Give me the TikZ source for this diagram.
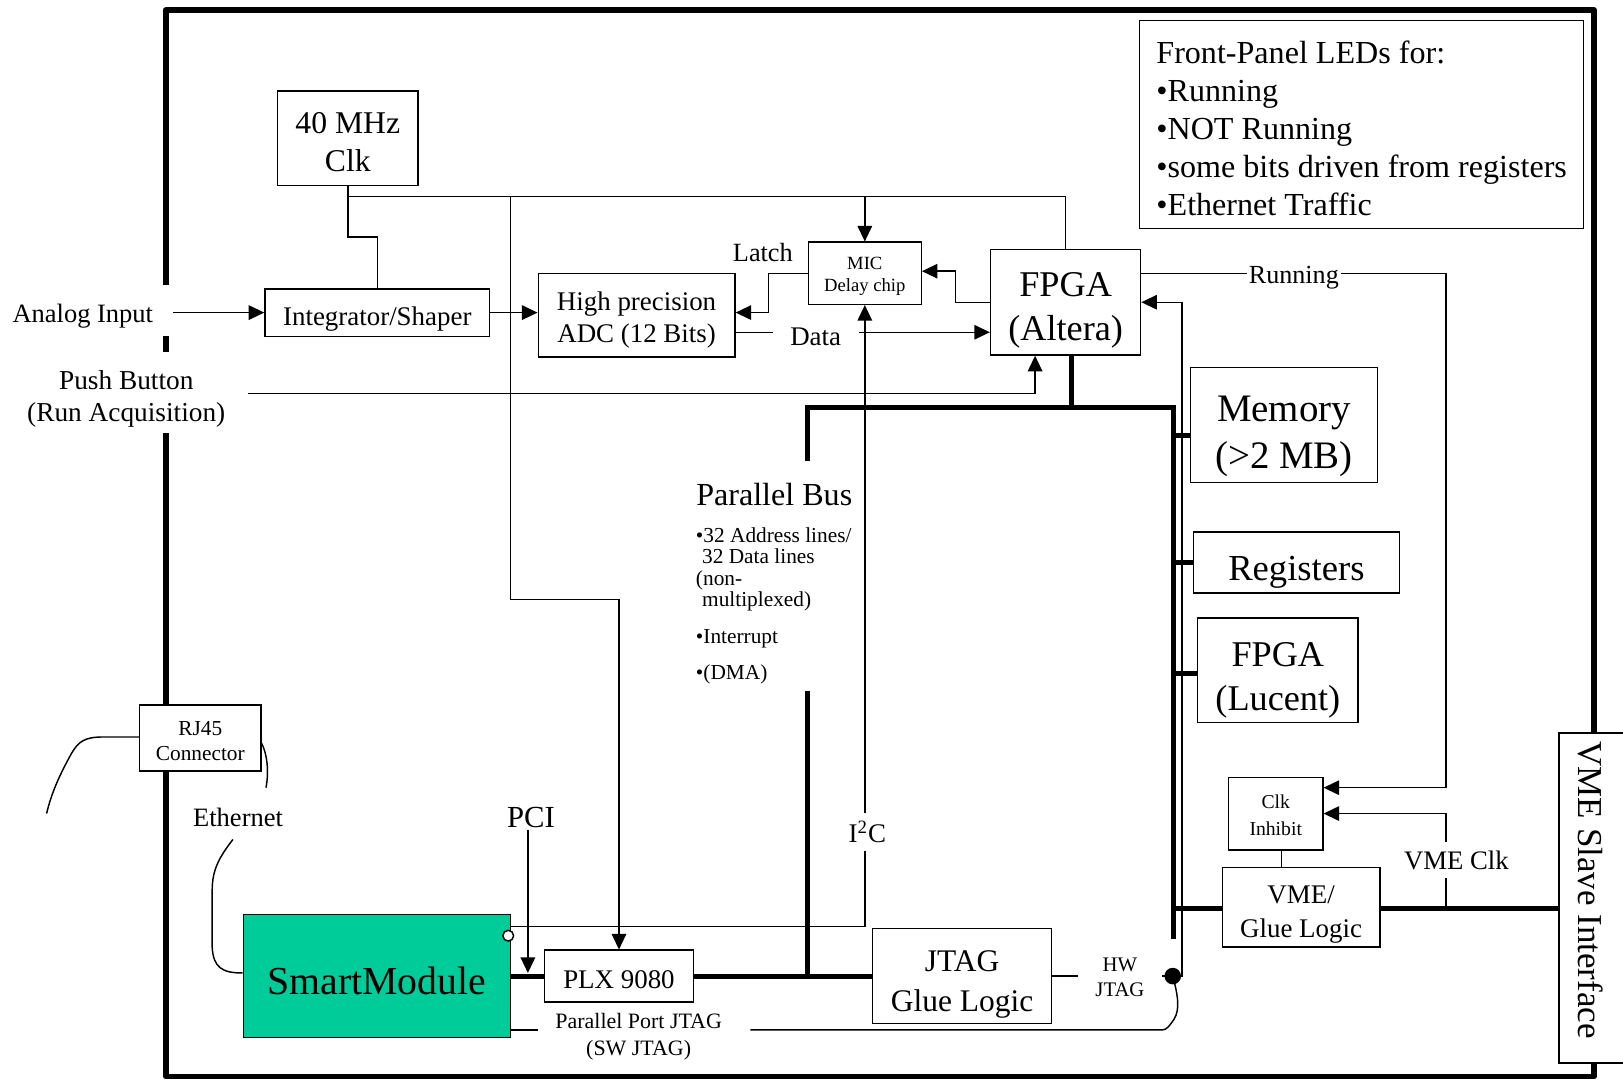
\documentclass[tikz,border=0pt]{standalone}
\usepackage{fontspec}
\setmainfont{Liberation Serif}
\usetikzlibrary{arrows.meta,calc}
\definecolor{smartc}{RGB}{0,204,153}
\newcommand{\myfs}[2]{\fontsize{#1pt}{#2pt}\selectfont}
\tikzset{
  box/.style={draw, line width=0.7pt, fill=white, inner sep=0pt, align=center},
  sz/.style 2 args={minimum width=#1*0.5pt, minimum height=#2*0.5pt},
  lab/.style={inner sep=0pt, align=center},
  ln/.style={line width=0.7pt},
  arr/.style={line width=0.7pt, -{Triangle[length=7.5pt,width=7pt]}},
  bus/.style={line width=2.4pt},
  frame/.style={line width=2.8pt, line join=round},
  lbl/.style={inner sep=1pt, align=center},
  gap/.style={fill=white, inner sep=1pt, align=center},
}
\begin{document}
\begin{tikzpicture}[x=0.5pt,y=-0.5pt]
\useasboundingbox (0,0) rectangle (1568,1043);

% outer frame
\draw[frame] (160,275) -- (160,10) -- (1540,10) -- (1540,1040) -- (160,1040) -- (160,418);
\draw[frame] (160,325) -- (160,340);

% boxes
\node[box,sz={136}{91},label={[lab,font=\myfs{15.3}{18.5},yshift=-1.75pt]center:{40 MHz\\Clk}}] (clk) at (336,133.5) {};
\node[box,sz={217}{46},label={[lab,font=\myfs{13}{15.5},yshift=-3pt]center:{Integrator/Shaper}}] (integ) at (364.5,302) {};
\node[box,sz={190}{81},label={[lab,font=\myfs{13}{15.5},yshift=-2.5pt]center:{High precision\\ADC (12 Bits)}}] (adc) at (615,304.5) {};
\node[box,sz={109}{60},label={[lab,font=\myfs{9}{10.5},yshift=-1.5pt]center:{MIC\\Delay chip}}] (mic) at (835.5,264) {};
\node[box,sz={145}{102},label={[lab,font=\myfs{17.5}{21.5},yshift=-4pt]center:{FPGA\\(Altera)}}] (fpgaA) at (1029.5,292) {};
\node[box,sz={429}{201},label={[lab,align=left,font=\myfs{15.5}{18.4},yshift=-1.75pt]center:{Front-Panel LEDs for:\\•Running\\•NOT Running\\•some bits driven from registers\\•Ethernet Traffic}}] (leds) at (1315.5,120.5) {};
\node[box,sz={181}{111},label={[lab,font=\myfs{18.8}{22.5},yshift=-5.5pt]center:{Memory\\(>2 MB)}}] (mem) at (1240.5,410.5) {};
\node[box,sz={199}{59},label={[lab,font=\myfs{17.7}{21},yshift=-4.5pt]center:{Registers}}] (reg) at (1252.5,543.5) {};
\node[box,sz={155}{101},label={[lab,font=\myfs{17.5}{21.5},yshift=-5pt]center:{FPGA\\(Lucent)}}] (fpgaL) at (1234.5,647.5) {};
\node[box,sz={91}{70},label={[lab,font=\myfs{9.5}{13},yshift=-1pt]center:{Clk\\Inhibit}}] (clkinh) at (1232.5,786) {};
\node[box,sz={152}{77},label={[lab,font=\myfs{13}{16},yshift=-3.5pt]center:{VME/\\Glue Logic}}] (vmeglue) at (1257,876.5) {};
\node[box,sz={173}{92},label={[lab,font=\myfs{15.2}{19},yshift=-4pt]center:{JTAG\\Glue Logic}}] (jtag) at (929.5,943) {};
\node[box,sz={144}{50},label={[lab,font=\myfs{13}{15.5},yshift=-1.5pt]center:{PLX 9080}}] (plx) at (598,943) {};
\node[box,sz={258}{119},fill=smartc,label={[lab,font=\myfs{19.2}{23},yshift=-2.5pt]center:{SmartModule}}] (smart) at (364,943) {};
\node[box,sz={117}{64},label={[lab,font=\myfs{10.3}{12},yshift=-1.5pt]center:{RJ45\\Connector}}] (rj45) at (193.5,713) {};
\node[box,sz={80}{319}] (vmes) at (1546,867.5) {};
\node[lbl,rotate=-90,font=\myfs{16.9}{20}] (vmest) at (1537,860) {VME Slave Interface};

% plain labels
\node[lbl,font=\myfs{12.8}{15}] (ain) at (80,305) {Analog Input};
\node[lbl,font=\myfs{13.2}{15.5}] (pb) at (122,385.5) {Push Button\\(Run Acquisition)};
\node[lbl,font=\myfs{12.7}{15}] (latch) at (737,244) {Latch};
\node[lbl,font=\myfs{15.5}{18}] (pbus) at (748,478) {Parallel Bus};
\node[inner sep=0pt,align=left,anchor=north west,font=\myfs{10.3}{10.4}] (pbl) at (672,509)
  {•32 Address lines/\\\hspace*{3pt}32 Data lines\\(non-\\\hspace*{3pt}multiplexed)\\[7.2pt]•Interrupt\\[7.2pt]•(DMA)};
\node[lbl,font=\myfs{14.8}{17}] (pci) at (513,790) {PCI};
\node[lbl,font=\myfs{12.8}{15}] (eth) at (230,790) {Ethernet};
\node[lbl,font=\myfs{10.6}{13}] (ppj) at (617,1002) {Parallel Port JTAG\\(SW JTAG)};

% clock distribution
\coordinate (j1) at (336,190);
\coordinate (j2) at (493,190);
\coordinate (j3) at (493,579);
\coordinate (j4) at (336,229);
\draw[ln] (clk.south) -- (j1) -| (fpgaA.north);
\draw[ln] (j1) -- (j4) -| (integ.north);
\draw[arr] (mic.north |- j1) -- (mic.north);
\draw[arr] (j2) -- (j3) -| (plx.north);

% analog chain
\coordinate (ainE) at (167,302);
\draw[arr] (ainE) -- (integ.west);
\draw[arr] (integ.east) -- (adc.west |- integ.east);
\draw[arr] (mic.west) -- ++(-38,0) |- ($(adc.east)+(0,-2.5)$);
\draw[arr] ($(adc.east)+(0,16.5)$) -- ($(fpgaA.west)+(0,29)$);
\draw[arr] (fpgaA.west) -- ++(-33,0) |- ($(mic.east)+(0,-2)$);

% push button
\coordinate (pbE) at (240,380);
\draw[arr] (pbE) -| ($(fpgaA.south)+(-29.5,0)$);

% running / clk inhibit
\coordinate (runC) at (1397,264);
\draw[arr] ($(fpgaA.east)+(0,-28)$) -- (runC) |- ($(clkinh.east)+(0,-25)$);
\coordinate (vclkB) at (1397,878);
\draw[arr] (vclkB) |- (clkinh.east);
\coordinate (ci) at ($(clkinh.south)+(5.5,0)$);
\draw[ln] (ci) -- (ci |- vmeglue.north);

% I2C
\coordinate (i2cS) at (493,895);
\draw[arr] (i2cS) -| (mic.south);
\draw[ln,fill=white] (491,904) circle (2.6pt);

% PCI
\coordinate (pciE) at (510,940);
\draw[arr] (pci.south -| pciE) -- (pciE);

% parallel bus
\coordinate (bT) at (1035,394);
\coordinate (bL) at (780,394);
\coordinate (bR) at (1134,394);
\draw[bus] (fpgaA.south -| bT) -- (bT);
\draw[bus] (780,445) -- (bL) -- (bR) -- (1134,907);
\draw[bus] (780,668) -- (780,943);
\draw[bus] (smart.east) -- (plx.west);
\draw[bus] (plx.east) -- (jtag.west);
\draw[bus] ($(mem.west)+(-16,10.5)$) -- ($(mem.west)+(0,10.5)$);
\draw[bus] (bR |- reg.west) -- (reg.west);
\draw[bus] ($(fpgaL.west)+(-23,3.5)$) -- ($(fpgaL.west)+(0,3.5)$);
\draw[bus] ($(vmeglue.west)+(-47,1.5)$) -- ($(vmeglue.west)+(0,1.5)$);
\draw[bus] ($(vmeglue.east)+(0,1.5)$) -- ($(vmeglue.east -| vmes.west)+(0,1.5)$);

% HW JTAG
\coordinate (hwdot) at (1133,943);
\coordinate (hwv) at (1142,292);
\draw[ln] (jtag.east) -- (hwdot);
\draw[arr] (hwdot) -| (hwv) -- (fpgaA.east);
\fill (hwdot) circle (4pt);

% SW JTAG
\coordinate (swA) at (1123,995);
\coordinate (swB) at (725,995);
\coordinate (swC) at (520,995);
\draw[ln] (hwdot) .. controls (1137,958) and (1141,975) .. (1134,985)
  .. controls (1130,991) and (1127,995) .. (swA) -- (swB);
\draw[ln] (smart.east |- swA) -- (swC);

% Ethernet
\draw[ln] ($(smart.west)+(0,-3)$) .. controls (215,940) and (206,935) .. (205,915)
  -- (205,860) .. controls (205,840) and (212,828) .. (225,811);
\draw[ln] (rj45.west |- 0,712) -- (100,712) .. controls (82,712) and (76,716) .. (69,728)
  .. controls (58,748) and (50,765) .. (45,786);
\draw[ln] ($(rj45.east)+(0,5)$) .. controls (258,728) and (260,745) .. (257,761);

% labels interrupting lines
\node[gap,inner xsep=8.5pt,font=\myfs{13}{15}] (data) at (788,325) {Data};
\node[gap,inner xsep=1pt,font=\myfs{12.6}{15}] (run) at (1250,268) {Running};
\node[gap,inner ysep=4pt,font=\myfs{12.9}{15}] (vclk) at (1407,831) {VME Clk};
\node[gap,inner ysep=4pt,font=\myfs{13}{15}] (i2c) at (838,804) {I\textsuperscript{2}C};
\node[gap,inner xsep=8.5pt,font=\myfs{10}{12}] (hwj) at (1082,944) {HW\\JTAG};
\end{tikzpicture}
\end{document}
